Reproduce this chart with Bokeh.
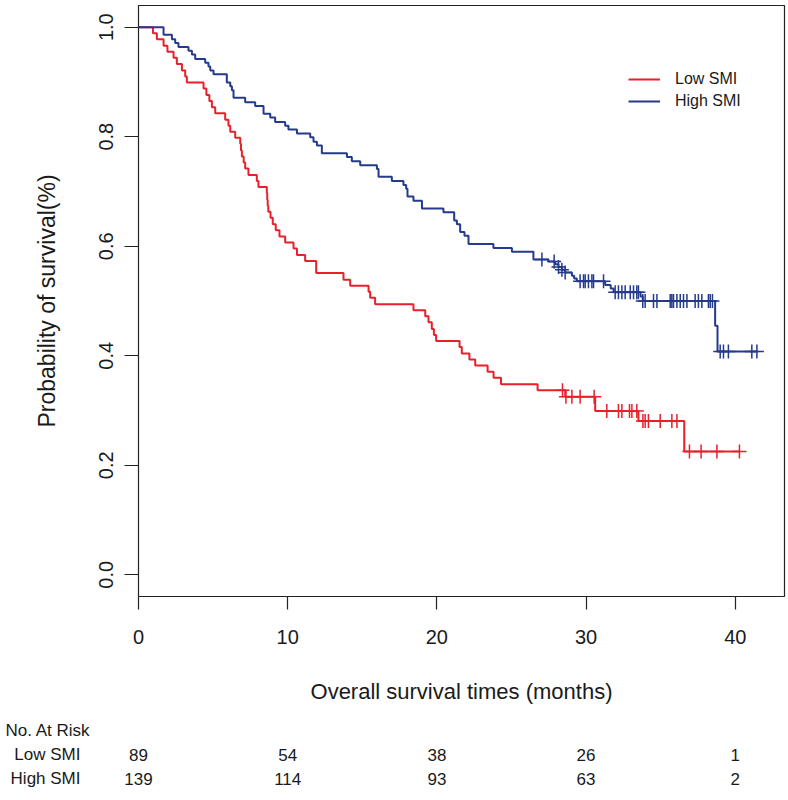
import numpy as np
from bokeh.plotting import figure
from bokeh.models import Range1d, FixedTicker, Legend, LegendItem
from bokeh.embed import file_html
from bokeh.resources import INLINE
from bokeh.core.properties import value

# ---------------- data ----------------
low_time = [0, 0.97, 1.23, 1.68, 1.94, 2.35, 2.57, 2.91, 3.13, 3.24, 4.36, 4.55, 4.75, 4.92,
            5.14, 5.81, 6.03, 6.15, 6.48, 6.82, 6.87, 6.93, 7.05, 7.15, 7.37, 7.93, 8.04,
            8.60, 8.63, 8.66, 8.70, 8.85, 9.00, 9.20, 9.45, 9.83, 10.39, 10.62, 11.17, 11.91,
            13.74, 14.19, 15.42, 15.53, 15.86, 18.43, 19.22, 19.44, 19.66, 19.80, 19.95,
            21.52, 21.67, 22.18, 22.57, 23.40, 23.80, 24.30, 26.75, 28.60, 30.61, 33.51,
            36.58, 40.28]
low_surv = [1.0, 0.989, 0.978, 0.966, 0.955, 0.944, 0.933, 0.921, 0.910, 0.899, 0.888, 0.876,
            0.865, 0.854, 0.843, 0.831, 0.820, 0.809, 0.798, 0.787, 0.775, 0.764, 0.753, 0.742,
            0.730, 0.719, 0.708, 0.697, 0.685, 0.674, 0.663, 0.652, 0.640, 0.629, 0.618, 0.607,
            0.596, 0.584, 0.573, 0.551, 0.539, 0.528, 0.517, 0.506, 0.494, 0.483, 0.472, 0.461,
            0.449, 0.438, 0.427, 0.416, 0.404, 0.393, 0.382, 0.371, 0.360, 0.348, 0.337, 0.325,
            0.299, 0.281, 0.225, 0.225]
low_censor = [28.42, 28.65, 29.05, 29.60, 30.54, 31.39, 32.17, 32.40, 32.91, 33.07, 33.40,
              33.81, 33.96, 34.18, 34.97, 35.75, 36.09, 36.93, 37.71, 38.77, 40.28]

high_time = [0, 1.68, 2.24, 2.46, 2.68, 3.35, 3.58, 3.80, 4.47, 4.69, 4.81, 5.03, 5.92, 6.15,
             6.26, 6.37, 7.15, 7.82, 8.38, 8.83, 9.16, 9.83, 10.05, 10.62, 11.51, 11.73, 11.96,
             12.29, 13.97, 14.30, 14.86, 15.98, 16.09, 16.98, 17.76, 17.94, 18.03, 18.43, 19.00,
             20.44, 21.16, 21.34, 21.56, 21.85, 22.12, 23.79, 25.03, 26.47, 27.48, 27.93, 28.15,
             28.38, 28.60, 29.05, 29.20, 29.38, 31.28, 31.65, 31.85, 33.65, 33.80, 38.65, 38.81,
             41.45]
high_surv = [1.0, 0.986, 0.978, 0.971, 0.964, 0.957, 0.950, 0.942, 0.935, 0.928, 0.921, 0.914,
             0.899, 0.892, 0.885, 0.871, 0.863, 0.856, 0.842, 0.835, 0.827, 0.820, 0.813, 0.806,
             0.799, 0.791, 0.784, 0.770, 0.763, 0.755, 0.748, 0.741, 0.727, 0.719, 0.712, 0.705,
             0.691, 0.683, 0.669, 0.662, 0.647, 0.640, 0.626, 0.619, 0.604, 0.597, 0.590, 0.576,
             0.572, 0.567, 0.562, 0.557, 0.552, 0.546, 0.541, 0.536, 0.529, 0.523, 0.516, 0.508,
             0.500, 0.455, 0.408, 0.408]
high_censor = [27.04, 27.86, 28.15, 28.38, 28.60, 29.60, 29.83, 29.94, 30.16, 30.39, 30.50,
               31.17, 31.95, 32.17, 32.40, 32.62, 32.96, 33.18, 33.40, 33.51, 33.80, 33.96,
               34.52, 34.75, 35.64, 35.75, 35.86, 36.09, 36.31, 36.53, 36.76, 37.31, 37.53,
               37.76, 38.20, 38.32, 38.47, 38.99, 39.21, 39.54, 41.11, 41.45]

groups = ["Low SMI", "High SMI"]
colors = ["#E8202A", "#243A8C"]
risk_times = [0, 10, 20, 30, 40]
risk_low = [89, 54, 38, 26, 1]
risk_high = [139, 114, 93, 63, 2]
x_ticks = [0, 10, 20, 30, 40]
y_ticks = [0.0, 0.2, 0.4, 0.6, 0.8, 1.0]
y_tick_labels = ["0.0", "0.2", "0.4", "0.6", "0.8", "1.0"]
x_title = "Overall survival times (months)"
y_title = "Probability of survival(%)"
risk_title = "No. At Risk"

FONT = "Liberation Sans"
TXT = "#1a1a1a"


def level_at(times, surv, t):
    idx = np.searchsorted(np.asarray(times), np.asarray(t), side="right") - 1
    return np.asarray(surv)[idx]


# ---------------- main KM plot ----------------
W = 786
LEFT, RIGHT = 138, 2
X1 = 43.3
p = figure(width=W, height=712, output_backend="svg", toolbar_location=None,
           x_range=Range1d(0, X1), y_range=Range1d(-0.0396, 1.0396),
           min_border_left=LEFT, min_border_right=RIGHT, min_border_top=5, min_border_bottom=116)
p.grid.visible = False
p.background_fill_color = "white"
p.border_fill_color = "white"
p.outline_line_color = "#222222"
p.outline_line_width = 1.2

renderers = []
for name, col, tt, ss, cc in [(groups[0], colors[0], low_time, low_surv, low_censor),
                              (groups[1], colors[1], high_time, high_surv, high_censor)]:
    r = p.step(x=tt, y=ss, mode="after", line_color=col, line_width=2)
    renderers.append(r)
    p.scatter(x=cc, y=level_at(tt, ss, cc), marker="cross", size=14,
              line_color=col, line_width=1.5)

legend = Legend(items=[LegendItem(label=groups[0], renderers=[renderers[0]]),
                       LegendItem(label=groups[1], renderers=[renderers[1]])],
                location=(490, 484), orientation="vertical")
legend.border_line_alpha = 0
legend.background_fill_alpha = 0
legend.padding = 0
legend.margin = 0
legend.spacing = 0
legend.glyph_width = 32
legend.glyph_height = 22
legend.label_height = 22
legend.label_standoff = 15
legend.label_text_font = FONT
legend.label_text_font_size = "16px"
legend.label_text_color = TXT
p.add_layout(legend, "center")

xa = p.xaxis[0]
xa.ticker = FixedTicker(ticks=x_ticks)
xa.axis_line_color = None
xa.major_tick_out = 13
xa.major_tick_in = 0
xa.minor_tick_line_color = None
xa.major_tick_line_color = "#222222"
xa.major_tick_line_width = 1.2
xa.major_label_text_font = FONT
xa.major_label_text_font_size = "20px"
xa.major_label_text_color = TXT
xa.major_label_standoff = 20
xa.axis_label = x_title
xa.axis_label_text_font = FONT
xa.axis_label_text_font_size = "22px"
xa.axis_label_text_font_style = "normal"
xa.axis_label_text_color = TXT
xa.axis_label_standoff = 32

ya = p.yaxis[0]
ya.ticker = FixedTicker(ticks=y_ticks)
ya.major_label_overrides = {t: l for t, l in zip(y_ticks, y_tick_labels)}
ya.major_label_orientation = "vertical"
ya.axis_line_color = None
ya.major_tick_out = 14
ya.major_tick_in = 0
ya.minor_tick_line_color = None
ya.major_tick_line_color = "#222222"
ya.major_tick_line_width = 1.2
ya.major_label_text_font = FONT
ya.major_label_text_font_size = "20px"
ya.major_label_text_color = TXT
ya.major_label_standoff = 11
ya.axis_label = y_title
ya.axis_label_text_font = FONT
ya.axis_label_text_font_size = "23px"
ya.axis_label_text_font_style = "normal"
ya.axis_label_text_color = TXT
ya.axis_label_standoff = 37

# ---------------- number-at-risk table: a second figure, same x scale ----------------
ppu = (W - LEFT - RIGHT) / X1
TH = 78
t = figure(width=W, height=TH, output_backend="svg", toolbar_location=None,
           x_range=Range1d(-LEFT / ppu, (W - LEFT) / ppu), y_range=Range1d(0, TH),
           min_border_left=0, min_border_right=0, min_border_top=0, min_border_bottom=0)
t.axis.visible = False
t.grid.visible = False
t.outline_line_color = None
t.background_fill_color = "white"
t.border_fill_color = "white"

ROW_Y = [TH - 18, TH - 42, TH - 66]
common = dict(text_font=value(FONT), text_font_size="17px", text_color=TXT,
              text_baseline="middle")
t.text(x=[0], y=[ROW_Y[0]], text=[risk_title], x_offset=-133, text_align="left", **common)
t.text(x=[0, 0], y=ROW_Y[1:], text=groups, x_offset=-58, text_align="right", **common)
t.text(x=risk_times, y=[ROW_Y[1]] * len(risk_times), text=[str(v) for v in risk_low],
       text_align="center", **common)
t.text(x=risk_times, y=[ROW_Y[2]] * len(risk_times), text=[str(v) for v in risk_high],
       text_align="center", **common)

open("out.html", "w").write(file_html([p, t], INLINE))
